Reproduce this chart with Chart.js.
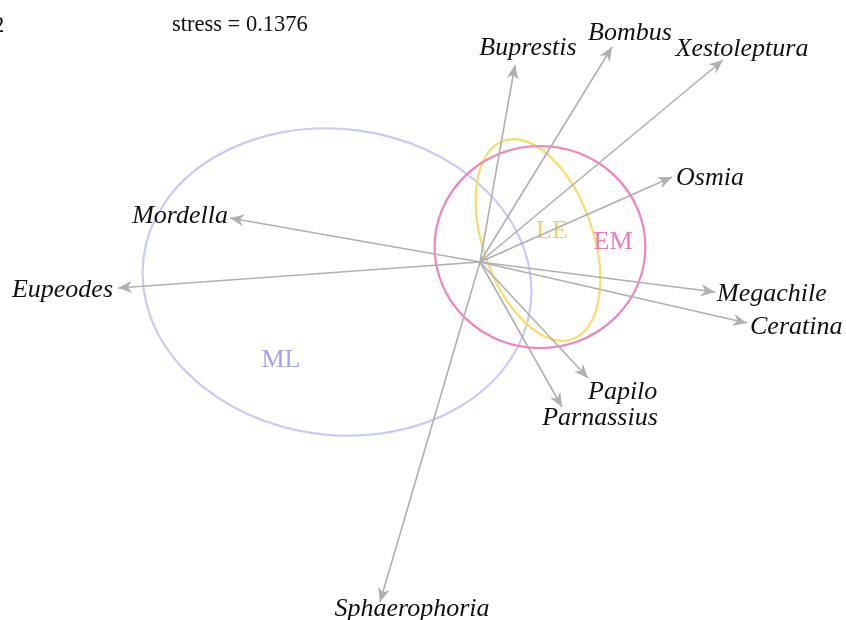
<!DOCTYPE html>
<html lang="en">
  <head>
    <meta charset="UTF-8" />
    <title>NMDS biplot</title>
    <script src="https://cdn.jsdelivr.net/npm/chart.js"></script>
    <style>
      body {
        margin: 0;
        padding: 0;
        background: #ffffff;
      }
      #wrap {
        width: 846px;
        height: 620px;
        position: relative;
      }
    </style>
  </head>
  <body>
    <div id="wrap">
      <canvas id="nmds" width="846" height="620"></canvas>
    </div>

    <script>
      // species vectors (NMDS1 / NMDS2 of arrow tips, origin = centroid)
      const species = [
        "Buprestis", "Bombus", "Xestoleptura", "Osmia", "Mordella", "Eupeodes",
        "Megachile", "Ceratina", "Papilo", "Parnassius", "Sphaerophoria"
      ];
      const vecX = [0.175, 0.66, 1.215, 0.96, -1.25, -1.81, 1.175, 1.335, 0.54, 0.41, -0.5];
      const vecY = [0.985, 1.075, 1.01, 0.425, 0.22, -0.13, -0.15, -0.305, -0.58, -0.725, -1.70];

      // group ellipses: centre, semi-axes, rotation (degrees)
      const groups = ["ML", "LE", "EM"];
      const ellCx = [-0.715, 0.29, 0.3];
      const ellCy = [-0.1, 0.11, 0.075];
      const ellRx = [0.975, 0.525, 0.527];
      const ellRy = [0.765, 0.275, 0.505];
      const ellRot = [7, 71, 0];
      const grpLabelX = [-0.995, 0.36, 0.665];
      const grpLabelY = [-0.49, 0.155, 0.1];

      const stressText = "stress = 0.1376";

      const groupColors = {
        ML: { line: "#c9c9fb", text: "#a3a3f5" },
        LE: { line: "#f9dc6a", text: "#f3d260" },
        EM: { line: "#f282c0", text: "#f07ab8" }
      };
      const arrowColor = "#b0b0b0";

      // where each name sits relative to its arrow tip
      const labelPlace = {
        Buprestis: { dx: 13, dy: -17, align: "center" },
        Bombus: { dx: 18, dy: -14, align: "center" },
        Xestoleptura: { dx: 19, dy: -11, align: "center" },
        Osmia: { dx: 4, dy: 1, align: "left" },
        Mordella: { dx: -2, dy: -2, align: "right" },
        Eupeodes: { dx: -5, dy: 2, align: "right" },
        Megachile: { dx: 2, dy: 2, align: "left" },
        Ceratina: { dx: 3, dy: 4, align: "left" },
        Papilo: { dx: 0, dy: 14, align: "left" },
        Parnassius: { dx: 38, dy: 11, align: "center" },
        Sphaerophoria: { dx: 32, dy: 7, align: "center" }
      };

      const datasets = species.map((name, i) => ({
        label: name,
        data: [{ x: 0, y: 0 }, { x: vecX[i], y: vecY[i] }],
        borderColor: arrowColor,
        borderWidth: 1.6,
        pointRadius: 0,
        showLine: true,
        fill: false
      }));

      const ellipsePlugin = {
        id: "ellipses",
        beforeDatasetsDraw(chart) {
          const { ctx, scales } = chart;
          const sx = scales.x, sy = scales.y;
          const ppu = sx.getPixelForValue(1) - sx.getPixelForValue(0);
          ctx.save();
          groups.forEach((g, i) => {
            ctx.beginPath();
            ctx.ellipse(
              sx.getPixelForValue(ellCx[i]),
              sy.getPixelForValue(ellCy[i]),
              ellRx[i] * ppu,
              ellRy[i] * ppu,
              (ellRot[i] * Math.PI) / 180,
              0,
              Math.PI * 2
            );
            ctx.strokeStyle = groupColors[g].line;
            ctx.lineWidth = 2.2;
            ctx.stroke();
          });
          ctx.font = '26px "Liberation Serif"';
          ctx.textAlign = "center";
          ctx.textBaseline = "middle";
          groups.forEach((g, i) => {
            ctx.fillStyle = groupColors[g].text;
            ctx.fillText(g, sx.getPixelForValue(grpLabelX[i]), sy.getPixelForValue(grpLabelY[i]));
          });
          ctx.restore();
        }
      };

      const arrowPlugin = {
        id: "arrowsAndNames",
        afterDatasetsDraw(chart) {
          const { ctx, scales } = chart;
          const sx = scales.x, sy = scales.y;
          const ox = sx.getPixelForValue(0), oy = sy.getPixelForValue(0);
          ctx.save();
          species.forEach((name, i) => {
            const tx = sx.getPixelForValue(vecX[i]);
            const ty = sy.getPixelForValue(vecY[i]);
            const a = Math.atan2(ty - oy, tx - ox);
            const len = 14, half = 6;
            ctx.save();
            ctx.translate(tx, ty);
            ctx.rotate(a);
            ctx.beginPath();
            ctx.moveTo(0, 0);
            ctx.lineTo(-len, -half);
            ctx.lineTo(-len * 0.7, 0);
            ctx.lineTo(-len, half);
            ctx.closePath();
            ctx.fillStyle = arrowColor;
            ctx.fill();
            ctx.restore();

            const p = labelPlace[name];
            ctx.font = 'italic 26px "Liberation Serif"';
            ctx.fillStyle = "#111111";
            ctx.textAlign = p.align;
            ctx.textBaseline = "middle";
            ctx.fillText(name, tx + p.dx, ty + p.dy);
          });

          ctx.font = '22.5px "Liberation Serif"';
          ctx.fillStyle = "#111111";
          ctx.textAlign = "left";
          ctx.textBaseline = "middle";
          ctx.fillText(stressText, 172, 25);
          ctx.fillText("2", -7, 26);
          ctx.restore();
        }
      };

      new Chart(document.getElementById("nmds").getContext("2d"), {
        type: "scatter",
        data: { datasets: datasets },
        options: {
          responsive: false,
          animation: false,
          devicePixelRatio: 1,
          layout: { padding: 0 },
          plugins: {
            legend: { display: false },
            tooltip: { enabled: false }
          },
          scales: {
            x: { type: "linear", display: false, min: -2.4, max: 1.83 },
            y: { type: "linear", display: false, min: -1.79, max: 1.31 }
          }
        },
        plugins: [ellipsePlugin, arrowPlugin]
      });
    </script>
  </body>
</html>
